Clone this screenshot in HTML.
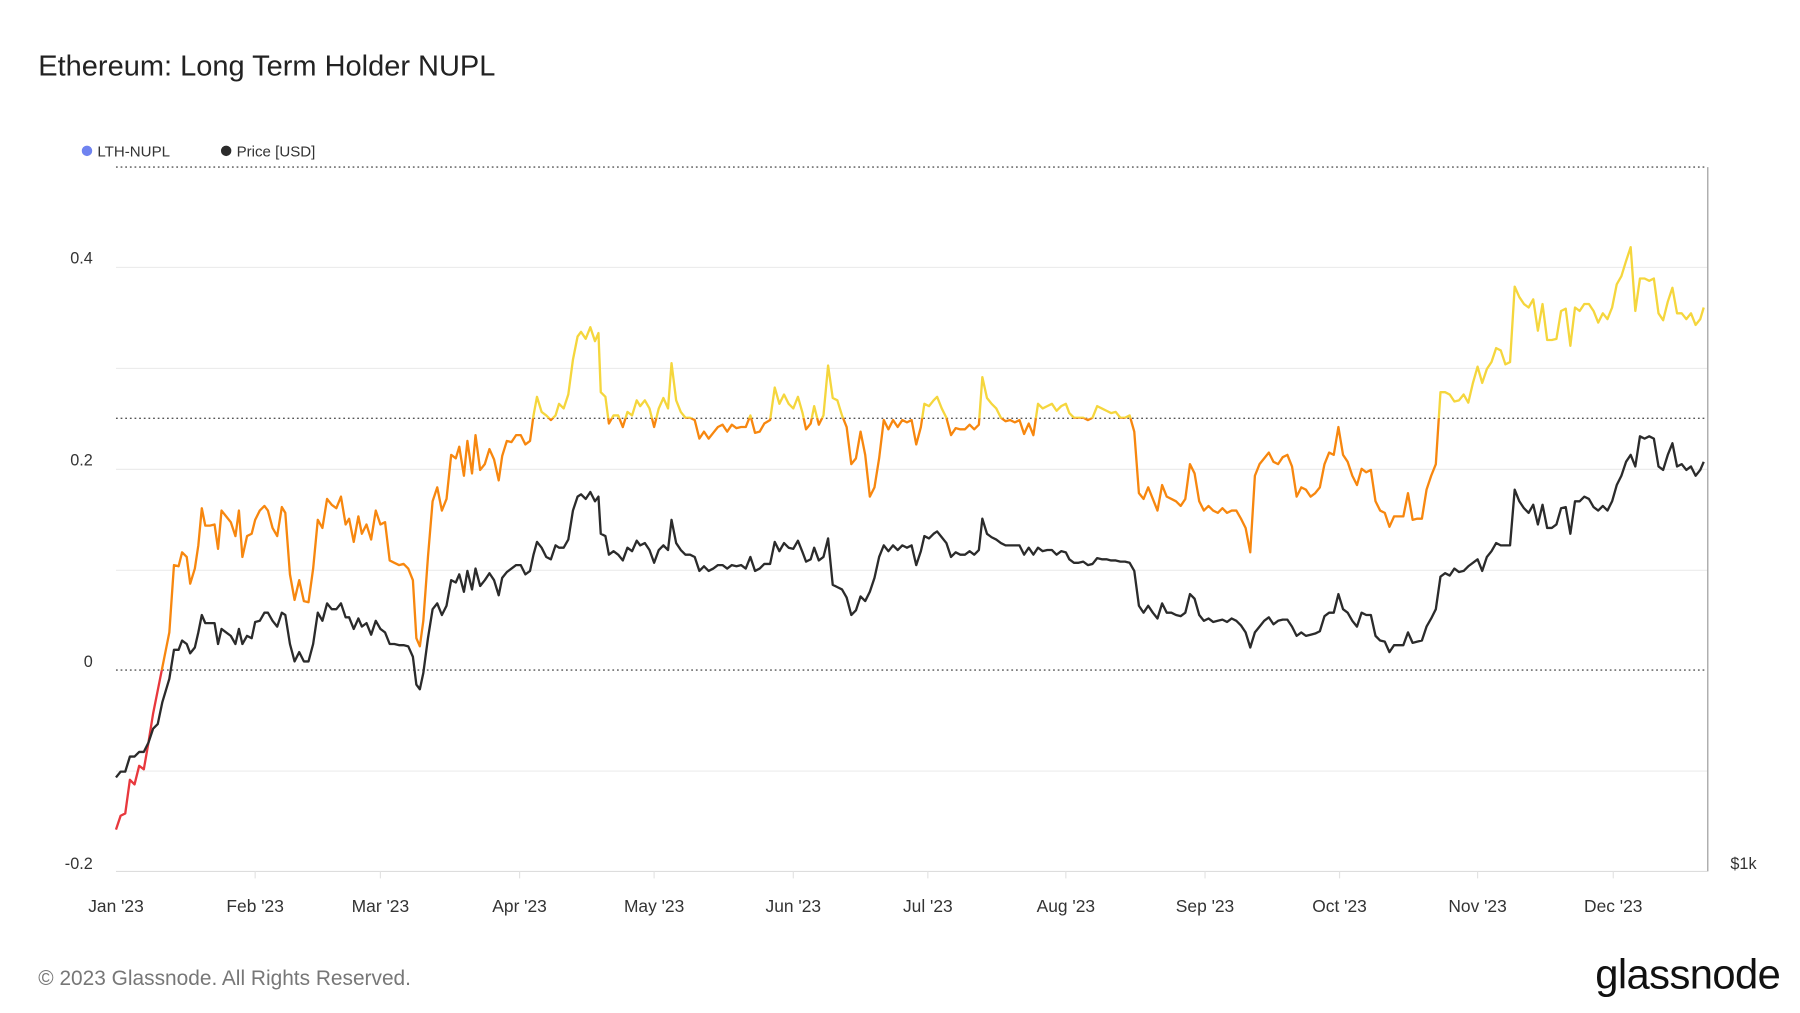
<!DOCTYPE html>
<html><head><meta charset="utf-8"><style>
html,body{margin:0;padding:0;background:#fff;}
svg{display:block;font-family:"Liberation Sans",sans-serif;}
</style></head><body>
<svg width="1800" height="1013" viewBox="0 0 1552 873" preserveAspectRatio="none" xmlns="http://www.w3.org/2000/svg">
<rect width="1552" height="873" fill="#fff"/>
<text x="33" y="65" font-size="25" fill="#222">Ethereum: Long Term Holder NUPL</text>
<circle cx="75" cy="130" r="4.5" fill="#6f83f0"/>
<text x="84" y="135" font-size="13" fill="#333">LTH-NUPL</text>
<circle cx="195" cy="130" r="4.5" fill="#2b2b2b"/>
<text x="204" y="135" font-size="13" fill="#333">Price [USD]</text>
<g stroke="#ececec" stroke-width="1">
<line x1="100" x2="1472" y1="230.5" y2="230.5"/>
<line x1="100" x2="1472" y1="317.5" y2="317.5"/>
<line x1="100" x2="1472" y1="404.5" y2="404.5"/>
<line x1="100" x2="1472" y1="491.5" y2="491.5"/>
<line x1="100" x2="1472" y1="664.5" y2="664.5"/>
</g>
<g stroke="#555" stroke-width="1.2" stroke-dasharray="1.5,2.5">
<line x1="100" x2="1472" y1="144" y2="144"/>
<line x1="100" x2="1472" y1="360.5" y2="360.5"/>
<line x1="100" x2="1472" y1="577.5" y2="577.5"/>
</g>
<line x1="100" x2="1472" y1="751" y2="751" stroke="#ddd"/>
<line x1="1472.5" x2="1472.5" y1="144" y2="751" stroke="#999"/>
<g stroke="#e3e3e3">
<line x1="220" x2="220" y1="751" y2="757"/><line x1="328" x2="328" y1="751" y2="757"/><line x1="448" x2="448" y1="751" y2="757"/><line x1="564" x2="564" y1="751" y2="757"/><line x1="684" x2="684" y1="751" y2="757"/><line x1="800" x2="800" y1="751" y2="757"/><line x1="919" x2="919" y1="751" y2="757"/><line x1="1039" x2="1039" y1="751" y2="757"/><line x1="1155" x2="1155" y1="751" y2="757"/><line x1="1274" x2="1274" y1="751" y2="757"/><line x1="1391" x2="1391" y1="751" y2="757"/>
</g>
<g font-size="14" fill="#333" text-anchor="end">
<text x="80" y="227">0.4</text><text x="80" y="401">0.2</text><text x="80" y="575">0</text><text x="80" y="749">-0.2</text>
</g>
<text x="1492" y="749" font-size="14" fill="#333">$1k</text>
<g font-size="15" fill="#333" text-anchor="middle">
<text x="100" y="786">Jan '23</text><text x="220" y="786">Feb '23</text><text x="328" y="786">Mar '23</text><text x="448" y="786">Apr '23</text><text x="564" y="786">May '23</text><text x="684" y="786">Jun '23</text><text x="800" y="786">Jul '23</text><text x="919" y="786">Aug '23</text><text x="1039" y="786">Sep '23</text><text x="1155" y="786">Oct '23</text><text x="1274" y="786">Nov '23</text><text x="1391" y="786">Dec '23</text>
</g>
<defs>
<clipPath id="cy"><rect x="0" y="0" width="1552" height="360.5"/></clipPath>
<clipPath id="co"><rect x="0" y="360.5" width="1552" height="217"/></clipPath>
<clipPath id="cr"><rect x="0" y="577.5" width="1552" height="300"/></clipPath>
<polyline id="n" fill="none" stroke-width="2" stroke-linejoin="round" points="100,715 104,703 108,701 112,672 116,676 120,660 124,663 128,640 132,615 136,595 140,575 143,560 146,545 150,487 154,488 157,476 161,480 164,503 168,490 171,470 174,438 177,453 181,453 185,452 188,473 191,440 195,445 199,450 203,462 206,440 209,480 213,462 217,460 220,448 224,440 228,436 231,440 235,455 239,462 243,437 246,442 250,495 254,517 258,500 262,518 266,519 270,490 274,448 278,455 282,430 286,435 290,438 294,428 298,452 301,447 305,467 309,445 312,460 316,452 320,465 324,440 328,452 332,450 336,483 340,485 344,487 348,486 352,490 356,500 359,550 362,557 365,535 369,480 373,432 377,420 381,440 385,430 389,392 393,395 396,385 400,410 403,380 407,408 410,375 414,405 418,400 422,387 426,396 430,414 433,393 437,380 441,381 445,375 449,375 453,383 457,380 460,358 463,342 467,355 471,358 475,362 479,358 482,348 486,352 490,340 494,310 498,290 501,286 505,292 509,282 513,294 516,287 518,338 522,342 525,365 529,358 533,358 537,368 541,355 545,358 549,345 552,350 556,345 560,352 564,368 568,352 572,343 576,352 579,313 583,345 587,355 591,360 595,360 599,362 603,378 607,372 611,378 615,373 619,368 623,366 627,372 631,366 635,369 639,368 643,368 647,358 651,373 655,372 659,365 664,362 668,334 672,348 676,340 680,348 684,352 688,342 692,356 695,370 699,365 702,350 706,366 710,358 714,315 718,343 722,345 726,358 730,368 734,400 738,395 742,372 746,392 750,428 754,420 758,395 762,362 766,370 770,362 774,368 778,362 782,364 786,362 790,383 794,368 797,348 801,350 805,345 808,342 812,352 816,360 820,375 824,369 828,370 832,370 836,366 840,370 844,366 847,325 851,343 855,348 859,352 863,360 867,363 871,362 875,364 879,362 883,374 887,365 891,375 895,348 899,352 903,350 907,348 911,354 915,350 919,348 922,356 926,360 930,360 934,360 938,362 942,360 946,350 950,352 954,354 958,356 962,355 966,360 970,360 974,358 978,372 982,425 986,430 990,420 994,430 998,440 1002,418 1006,428 1010,430 1014,432 1018,436 1022,430 1026,400 1030,408 1034,432 1038,440 1042,436 1046,440 1050,442 1054,438 1058,442 1062,440 1066,440 1070,447 1074,455 1078,476 1082,410 1086,400 1090,395 1094,390 1098,398 1102,400 1106,394 1110,392 1114,402 1118,428 1122,420 1126,422 1130,428 1134,425 1138,420 1142,400 1146,390 1150,392 1154,368 1158,392 1162,398 1166,410 1170,418 1174,404 1178,407 1182,405 1186,432 1190,440 1194,442 1198,454 1202,445 1206,445 1210,445 1214,425 1218,448 1222,447 1226,447 1230,422 1234,410 1238,400 1242,338 1246,338 1250,340 1254,346 1258,345 1262,340 1266,347 1270,330 1274,316 1278,330 1282,318 1286,312 1290,300 1294,302 1298,314 1302,312 1306,247 1310,256 1314,262 1318,265 1322,258 1326,285 1330,262 1334,293 1338,293 1342,292 1346,268 1350,266 1354,298 1358,265 1362,268 1366,262 1370,262 1374,268 1378,278 1382,270 1386,275 1390,265 1394,245 1398,238 1402,225 1406,213 1410,268 1414,240 1418,240 1422,242 1426,240 1430,270 1434,276 1438,260 1442,248 1446,270 1450,270 1454,275 1458,270 1462,280 1466,275 1469,265"/>
</defs>
<use href="#n" stroke="#f5d63d" clip-path="url(#cy)"/>
<use href="#n" stroke="#f7870f" clip-path="url(#co)"/>
<use href="#n" stroke="#e8383d" clip-path="url(#cr)"/>
<polyline fill="none" stroke="#2b2b2b" stroke-width="2" stroke-linejoin="round" points="100,670 104,665 108,665 112,652 116,652 120,648 124,648 128,640 132,628 136,624 140,605 143,595 146,585 150,560 154,560 157,552 161,555 164,563 168,558 171,545 174,530 177,537 181,537 185,537 188,555 191,542 195,545 199,548 203,555 206,542 209,555 213,548 217,550 220,536 224,535 228,528 231,528 235,535 239,540 243,528 246,530 250,555 254,570 258,562 262,570 266,570 270,555 274,528 278,535 282,520 286,525 290,525 294,520 298,532 301,532 305,542 309,533 312,540 316,537 320,547 324,535 328,542 332,545 336,555 340,555 344,556 348,556 352,557 356,566 359,590 362,594 365,580 369,550 373,525 377,520 381,530 385,522 389,500 393,502 396,495 400,510 403,492 407,508 410,490 414,505 418,500 422,494 426,500 430,513 433,498 437,493 441,490 445,487 449,487 453,495 457,492 460,478 463,467 467,472 471,480 475,482 479,470 482,472 486,472 490,465 494,440 498,428 501,426 505,430 509,424 513,432 516,428 518,460 522,462 525,478 529,475 533,478 537,483 541,472 545,475 549,466 552,470 556,468 560,474 564,485 568,474 572,470 576,474 579,448 583,468 587,474 591,478 595,478 599,480 603,492 607,488 611,492 615,490 619,487 623,487 627,490 631,487 635,488 639,487 643,490 647,480 651,492 655,490 659,486 664,486 668,467 672,475 676,468 680,472 684,473 688,466 692,476 695,484 699,482 702,472 706,483 710,480 714,464 718,504 722,506 726,508 730,515 734,530 738,526 742,514 746,518 750,510 754,498 758,480 762,470 766,475 770,470 774,474 778,470 782,472 786,470 790,487 794,475 797,462 801,464 805,460 808,458 812,463 816,468 820,480 824,476 828,478 832,478 836,475 840,478 844,474 847,447 851,460 855,463 859,465 863,468 867,470 871,470 875,470 879,470 883,478 887,472 891,478 895,472 899,475 903,474 907,474 911,478 915,475 919,476 922,482 926,485 930,485 934,484 938,487 942,486 946,481 950,482 954,482 958,483 962,483 966,484 970,484 974,485 978,492 982,522 986,528 990,522 994,528 998,533 1002,520 1006,528 1010,528 1014,530 1018,531 1022,528 1026,512 1030,516 1034,530 1038,535 1042,533 1046,536 1050,535 1054,534 1058,536 1062,533 1066,535 1070,539 1074,545 1078,558 1082,545 1086,540 1090,535 1094,532 1098,538 1102,535 1106,534 1110,534 1114,540 1118,548 1122,545 1126,548 1130,547 1134,546 1138,544 1142,531 1146,528 1150,528 1154,512 1158,525 1162,528 1166,535 1170,540 1174,528 1178,530 1182,530 1186,548 1190,552 1194,553 1198,562 1202,556 1206,556 1210,556 1214,545 1218,554 1222,553 1226,552 1230,540 1234,533 1238,525 1242,497 1246,494 1250,496 1254,490 1258,493 1262,492 1266,488 1270,485 1274,482 1278,492 1282,480 1286,475 1290,468 1294,470 1298,470 1302,470 1306,422 1310,432 1314,438 1318,442 1322,435 1326,452 1330,435 1334,455 1338,455 1342,452 1346,438 1350,437 1354,460 1358,432 1362,432 1366,428 1370,430 1374,437 1378,440 1382,436 1386,440 1390,432 1394,418 1398,410 1402,398 1406,392 1410,402 1414,376 1418,378 1422,376 1426,378 1430,402 1434,405 1438,392 1442,382 1446,402 1450,400 1454,405 1458,402 1462,410 1466,405 1469,398"/>
<text x="33" y="849" font-size="18" fill="#777">© 2023 Glassnode. All Rights Reserved.</text>
<text x="1535" y="852" font-size="36" fill="#111" text-anchor="end" letter-spacing="-0.5">glassnode</text>
</svg>
</body></html>
